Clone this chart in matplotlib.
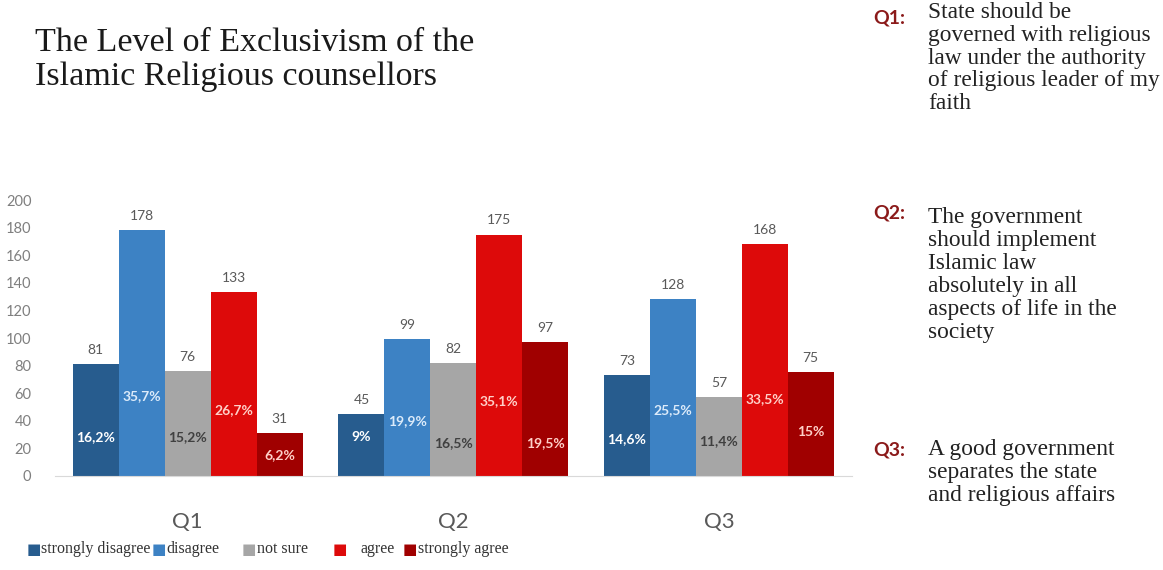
"""
Level of exclusivism of the Islamic religious counsellors
"""
import numpy as np
import matplotlib
matplotlib.use('Agg')
import matplotlib.pyplot as plt

# Données
questions = ['Q1', 'Q2', 'Q3']
answers = ['strongly disagree', 'disagree', 'not sure', 'agree', 'strongly agree']
counts = [
    [81, 45, 73],     # strongly disagree
    [178, 99, 128],   # disagree
    [76, 82, 57],     # not sure
    [133, 175, 168],  # agree
    [31, 97, 75],     # strongly agree
]
shares = [
    ['16,2%', '9%', '14,6%'],
    ['35,7%', '19,9%', '25,5%'],
    ['15,2%', '16,5%', '11,4%'],
    ['26,7%', '35,1%', '33,5%'],
    ['6,2%', '19,5%', '15%'],
]
yticks = [0, 20, 40, 60, 80, 100, 120, 140, 160, 180, 200]
notes = [
    'State should be\ngoverned with religious\nlaw under the authority\nof religious leader of my\nfaith',
    'The government\nshould implement\nIslamic law\nabsolutely in all\naspects of life in the\nsociety',
    'A good government\nseparates the state\nand religious affairs',
]

# Mise en page
colors = ['#275C8E', '#3D82C4', '#A6A6A6', '#DD0A0A', '#A00000']
pct_colors = ['white', '#DCEBFA', '#404040', '#FFD0C8', '#FFD0C8']
pct_height = [
    [28, 28, 27],
    [58, 40, 48],
    [28, 24, 25],
    [48, 54, 56],
    [15, 24, 32],
]
serif = ['Liberation Serif', 'DejaVu Serif']
sans = ['Lato', 'DejaVu Sans']

fig = plt.figure(figsize=(11.63, 5.70), dpi=100)
ax = fig.add_axes([0.0473, 0.165, 0.685, 0.484])

x = np.arange(len(questions))
width = 0.173
for i, (name, vals) in enumerate(zip(answers, counts)):
    pos = x + (i - 2) * width
    bars = ax.bar(pos, vals, width=width, color=colors[i], label=name)
    for b, v in zip(bars, vals):
        ax.annotate(str(v), (b.get_x() + b.get_width() / 2, v),
                    xytext=(0, 6), textcoords='offset points',
                    ha='center', va='bottom', fontsize=10,
                    color='#595959', family=sans)
    for j, (p, s) in enumerate(zip(pos, shares[i])):
        ax.text(p, pct_height[i][j], s, ha='center', va='center',
                fontsize=10, fontweight='bold', color=pct_colors[i],
                family=sans)

ax.set_xlim(-0.5, 2.5)
ax.set_ylim(0, 200)
ax.set_yticks(yticks)
ax.set_xticks(x)
ax.set_xticklabels(questions, fontsize=16, color='#595959', family=sans)
for lbl in ax.get_yticklabels():
    lbl.set_family(sans)
ax.tick_params(axis='y', length=0, pad=17, labelsize=10.5, labelcolor='#7F7F7F')
ax.tick_params(axis='x', length=0, pad=26)
for side in ['top', 'right', 'left']:
    ax.spines[side].set_visible(False)
ax.spines['bottom'].set_color('#D9D9D9')

# Titre
fig.text(0.030, 0.895, 'The Level of Exclusivism of the\nIslamic Religious counsellors',
         ha='left', va='center', fontsize=24.5, family=serif, color='#1A1A1A',
         linespacing=1.14)

# Légende
sq_x = [0.023, 0.130, 0.208, 0.286, 0.346]
lbl_x = [0.035, 0.143, 0.221, 0.310, 0.359]
for sx, lx, name, c in zip(sq_x, lbl_x, answers, colors):
    fig.text(sx, 0.036, '\u25A0', color=c, fontsize=11, va='center',
             family=['DejaVu Sans'])
    fig.text(lx, 0.036, name, color='#333333', fontsize=11.5,
             va='center', family=serif)

# Questions
note_y = [0.997, 0.637, 0.230]
q_y = [0.968, 0.626, 0.211]
for q, txt, ny, qy in zip(questions, notes, note_y, q_y):
    fig.text(0.751, qy, q + ':', color='#8B1A1A', fontsize=14,
             fontweight='bold', family=sans, va='center')
    fig.text(0.798, ny, txt, color='#222222', fontsize=16.8, family=serif,
             va='top', linespacing=1.12)

fig.savefig('out.png', dpi=100, facecolor='white')
